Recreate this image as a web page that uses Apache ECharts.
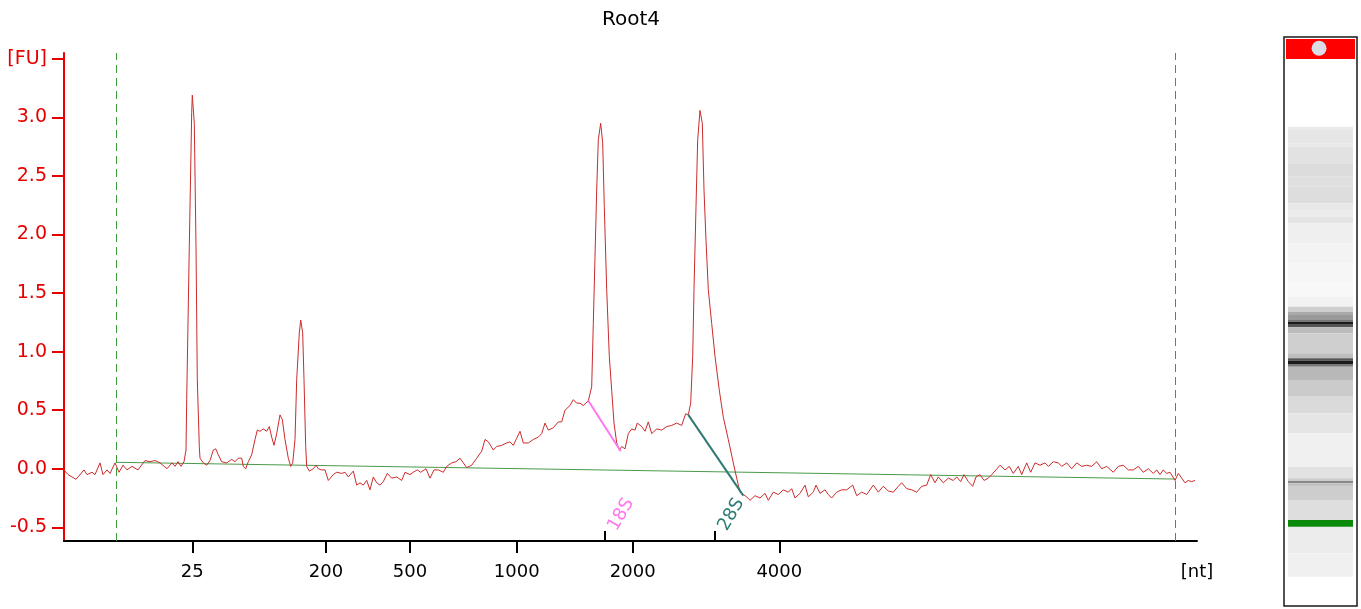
<!DOCTYPE html>
<html><head><meta charset="utf-8">
<script src="https://cdn.jsdelivr.net/npm/echarts@6/dist/echarts.min.js"></script>
<style>html,body{margin:0;padding:0;background:#fff}#c{width:1361px;height:609px}</style>
</head><body><div id="c"></div>
<script>
// Electropherogram trace: [migration index, fluorescence FU]
const traceSamples = [[0,-0.01],[1,-0.02],[4,-0.05],[12,-0.09],[20,-0.01],[23,-0.05],[28,-0.03],[31,-0.05],[36,0.05],[39,-0.05],[43,-0.01],[46,-0.04],[51,0.05],[55,-0.03],[59,0.03],[63,-0.01],[68,0.02],[74,-0.01],[81,0.07],[86,0.06],[91,0.07],[96,0.05],[103,0.00],[108,0.05],[111,0.02],[114,0.06],[117,0.02],[120,0.06],[122,0.16],[122.7,0.59],[125.3,1.90],[127.7,3.04],[128.3,3.19],[130.3,2.95],[132,1.90],[133.3,0.76],[135.3,0.19],[136,0.09],[139.3,0.05],[142.7,0.03],[146,0.07],[149.3,0.16],[151.7,0.17],[154.3,0.12],[157.7,0.06],[162.7,0.05],[167.7,0.08],[171,0.06],[174.3,0.09],[177.7,0.09],[179.3,0.02],[181.7,0.00],[184.3,0.06],[187.7,0.12],[191,0.25],[193.3,0.33],[196,0.32],[199.3,0.34],[202.7,0.32],[205.3,0.36],[207.7,0.27],[210,0.20],[212.7,0.30],[216,0.46],[218.3,0.42],[221,0.25],[224.3,0.09],[226.7,0.02],[228.7,0.05],[231,0.25],[232.7,0.76],[235.3,1.16],[236.7,1.27],[238.7,1.16],[240,0.76],[241.7,0.19],[242.7,0.02],[245.3,-0.02],[249.3,0.00],[252,0.03],[254.3,0.00],[257.7,-0.01],[261,-0.01],[264.3,-0.10],[266,-0.10],[269.3,-0.05],[272.7,-0.03],[277.7,-0.04],[281,-0.03],[284.3,-0.07],[289.3,-0.02],[292.7,-0.14],[296,-0.12],[299.3,-0.14],[302.7,-0.10],[306,-0.18],[309.3,-0.07],[312.7,-0.12],[316,-0.14],[319.3,-0.11],[323.3,-0.04],[327.7,-0.08],[332.7,-0.07],[337.7,-0.10],[341,-0.03],[346,-0.05],[349.3,-0.03],[353.3,-0.01],[356.7,-0.03],[362,0.00],[366,-0.08],[370,-0.01],[374.3,-0.01],[379.3,-0.03],[382.7,0.02],[387.7,0.05],[392,0.06],[396,0.09],[399.3,0.05],[402.7,0.01],[407.7,0.03],[412.7,0.09],[417.7,0.15],[421,0.25],[424.3,0.23],[429.3,0.16],[432.7,0.19],[437.7,0.20],[442.7,0.22],[446,0.23],[449.3,0.20],[452.7,0.26],[456,0.32],[459.3,0.22],[464.3,0.22],[469.3,0.25],[474.3,0.27],[477.7,0.30],[481,0.39],[484.3,0.33],[489.3,0.35],[494.3,0.40],[497.7,0.40],[501,0.50],[506,0.54],[509.3,0.59],[512.7,0.56],[516,0.56],[519.3,0.54],[524.3,0.58],[527.7,0.70],[529.3,1.24],[531,1.81],[532.7,2.38],[534.3,2.81],[536.7,2.95],[538.7,2.78],[540.3,2.24],[542.7,1.53],[545.3,0.96],[547.7,0.67],[550,0.39],[552.7,0.22],[555.3,0.16],[557.7,0.19],[561,0.17],[564.3,0.30],[567.7,0.34],[571,0.33],[573.3,0.39],[577.7,0.36],[581,0.32],[584.3,0.40],[587.7,0.30],[592.7,0.34],[597.7,0.33],[602.7,0.36],[607.7,0.37],[612.7,0.39],[617.7,0.37],[621.7,0.47],[624.3,0.46],[626.7,0.56],[628.7,0.96],[630,1.53],[632,2.24],[633.7,2.81],[636,3.06],[638.3,2.95],[640,2.38],[642,1.95],[644.3,1.53],[647.7,1.24],[651,0.96],[655.3,0.67],[659.3,0.44],[664.3,0.25],[669.3,0.05],[672.7,-0.08],[676,-0.20],[679.3,-0.22],[682.7,-0.24],[686,-0.27],[691,-0.23],[696,-0.25],[701,-0.21],[704.3,-0.27],[709.3,-0.20],[714.3,-0.22],[719.3,-0.18],[724.3,-0.20],[727.7,-0.17],[731,-0.25],[736,-0.21],[741,-0.14],[744.3,-0.24],[749.3,-0.20],[752,-0.14],[756,-0.21],[761,-0.18],[764.3,-0.22],[767.7,-0.25],[772.7,-0.20],[777.7,-0.18],[782.7,-0.18],[788.7,-0.14],[792.7,-0.23],[797.7,-0.20],[802.7,-0.22],[809.3,-0.14],[814.3,-0.20],[819.3,-0.15],[824.3,-0.19],[829.3,-0.20],[834.3,-0.15],[837.7,-0.12],[842.7,-0.17],[847.7,-0.18],[852.7,-0.20],[857.7,-0.15],[862.7,-0.14],[866.7,-0.05],[871,-0.12],[874.3,-0.07],[879.3,-0.12],[884.3,-0.08],[889.3,-0.10],[892.7,-0.07],[896.7,-0.11],[900,-0.05],[904.3,-0.11],[908.7,-0.15],[912,-0.07],[916,-0.05],[920,-0.10],[924.3,-0.08],[927.7,-0.05],[932,-0.01],[936,0.03],[941,-0.01],[945.3,0.02],[949.3,-0.04],[954.3,0.02],[957.7,-0.05],[962.7,0.05],[966.7,-0.03],[971,0.05],[976,0.03],[981,0.05],[984.3,0.02],[989.3,0.06],[994.3,0.05],[997.7,0.02],[1002.7,0.05],[1007.7,0.00],[1012.7,0.05],[1017.7,0.02],[1022.7,0.03],[1027.7,0.02],[1032.7,0.06],[1037.7,0.00],[1042.7,0.02],[1049.3,-0.03],[1054.3,0.02],[1059.3,0.03],[1064.3,-0.01],[1069.3,-0.01],[1074.3,0.02],[1079.3,-0.03],[1084.3,0.00],[1089.3,-0.04],[1092.7,-0.01],[1096,-0.05],[1099.3,-0.01],[1102.7,-0.04],[1106,-0.03],[1111,-0.10],[1114.3,-0.04],[1117.7,-0.08],[1121,-0.12],[1124.3,-0.10],[1127.7,-0.11],[1131,-0.10]];

// Ladder (size labels) on the migration axis
const ladderNt = [25, 200, 500, 1000, 2000, 4000];
const ladderPos = [128.3, 262, 346, 452.7, 568.7, 715.3];
const axisEnd = 1133;
const axisUnitLabel = '[nt]';

// rRNA peak annotations
const rRNANames = ['18S', '28S'];
const rRNAPos = [540.7, 651];
const peak18S = [[524.3, 0.58], [556.7, 0.15]];
const peak28S = [[624.3, 0.46], [679.3, -0.23]];

// Integration window and baseline
const windowPos = [52.3, 1111.3];
const baseline = [[52.3, 0.055], [1111.3, -0.088]];

// FU axis ticks
const fuTicks = [-0.5, 0, 0.5, 1, 1.5, 2, 2.5, 3, 3.5];
const fuUnit = '[FU]';

// Gel lane: [start, end, gray level] along lane (top = 0)
const gelBands = [[89.7,93,235],[93,106.3,230],[106.3,109.7,233],[109.7,126.3,226],[126.3,139.7,220],[139.7,149.7,224],[149.7,166.3,221],[166.3,173,232],[173,179.7,236],[179.7,186.3,228],[186.3,206.3,239],[206.3,226.3,243],[226.3,246.3,246],[246.3,259.7,248],[259.7,269.7,242],[269.7,274.7,207],[274.7,278,170],[278,283,153],[283,284.7,119],[284.7,287.7,26],[287.7,290.3,85],[290.3,296.3,187],[296.3,316.3,207],[316.3,321.3,189],[321.3,323.7,85],[323.7,327,26],[327,329.7,119],[329.7,343,184],[343,359.7,203],[359.7,376.3,218],[376.3,396.3,229],[396.3,429.7,240],[429.7,441.3,226],[441.3,444,204],[444,446.3,136],[446.3,449.7,192],[449.7,463,205],[463,483,222],[489.7,516.3,236],[516.3,539.7,240]];
const gelCap = [[2, 22]];
const gelMarker = [[483, 489.7]];
const gelCapIcon = [[0.48, 11.3]];

const FONT = 'DejaVu Sans';
const chart = echarts.init(document.getElementById('c'));

function bandRenderer(x0, x1, colorFn) {
  return function (params, api) {
    const p0 = api.coord([x0, api.value(0)]);
    const p1 = api.coord([x1, api.value(1)]);
    return {
      type: 'rect',
      shape: { x: p0[0], y: p0[1], width: p1[0] - p0[0], height: p1[1] - p0[1] },
      style: { fill: colorFn(api) }
    };
  };
}

const dashStyle = { color: '#3c9a3c', type: [8, 5], width: 1 };

chart.setOption({
  animation: false,
  backgroundColor: '#fff',
  textStyle: { fontFamily: FONT },
  title: {
    text: 'Root4', left: 597, top: 5,
    textStyle: { fontSize: 20, fontWeight: 'normal', color: '#000', fontFamily: FONT }
  },
  grid: [
    { left: 64, right: 164, top: 53, bottom: 68 },
    { left: 1284, top: 37, width: 73, height: 569, show: true, borderColor: '#1a1a1a', borderWidth: 1.5, backgroundColor: '#fff' }
  ],
  xAxis: [
    {
      type: 'value', gridIndex: 0, min: 0, max: axisEnd,
      axisLine: { show: true, onZero: false, lineStyle: { color: '#000', width: 2 } },
      axisTick: { show: true, customValues: ladderPos, length: 12, lineStyle: { color: '#000', width: 2 } },
      axisLabel: {
        customValues: ladderPos.concat([axisEnd]),
        formatter: function (v) { const i = ladderPos.indexOf(v); return i >= 0 ? String(ladderNt[i]) : axisUnitLabel; },
        fontSize: 18, color: '#000', margin: 22, fontFamily: FONT
      },
      splitLine: { show: false }
    },
    {
      type: 'value', gridIndex: 0, min: 0, max: axisEnd, position: 'bottom',
      axisLine: { show: false, onZero: false },
      axisTick: { show: true, customValues: rRNAPos, inside: true, length: 10, lineStyle: { color: '#000', width: 2 } },
      axisLabel: {
        customValues: rRNAPos, inside: true, rotate: 60, margin: 16, verticalAlign: 'top',
        formatter: function (v) { const i = rRNAPos.indexOf(v); return (i === 0 ? '{a|' : '{b|') + rRNANames[i] + '}'; },
        rich: {
          a: { color: '#ff77ee', fontSize: 18, fontFamily: FONT },
          b: { color: '#2e7b74', fontSize: 18, fontFamily: FONT }
        }
      },
      splitLine: { show: false }
    },
    { type: 'value', gridIndex: 1, min: 0, max: 1, show: false }
  ],
  yAxis: [
    {
      type: 'value', gridIndex: 0, min: -0.617, max: 3.55,
      axisLine: { show: true, lineStyle: { color: '#e60000', width: 2 } },
      axisTick: { show: true, customValues: fuTicks, length: 12, lineStyle: { color: '#e60000', width: 2 } },
      axisLabel: {
        customValues: fuTicks,
        formatter: function (v) { return v === 3.5 ? fuUnit : v.toFixed(1); },
        color: '#e60000', fontSize: 19, margin: 17, fontFamily: FONT
      },
      splitLine: { show: false }
    },
    { type: 'value', gridIndex: 1, min: 0, max: 569, inverse: true, show: false }
  ],
  series: [
    {
      type: 'line', xAxisIndex: 0, yAxisIndex: 0, data: baseline, symbol: 'none',
      lineStyle: { color: '#4a9a4a', width: 1 }, silent: true, z: 2,
      markLine: {
        silent: true, symbol: 'none', label: { show: false },
        lineStyle: dashStyle,
        data: windowPos.map(function (x) { return { xAxis: x, lineStyle: dashStyle }; })
      }
    },
    {
      type: 'line', xAxisIndex: 0, yAxisIndex: 0, data: traceSamples, symbol: 'none',
      lineStyle: { color: '#cc2b2b', width: 1 }, silent: true, z: 3
    },
    {
      type: 'line', xAxisIndex: 0, yAxisIndex: 0, data: peak18S, symbol: 'none',
      lineStyle: { color: '#ff77ee', width: 2 }, silent: true, z: 4
    },
    {
      type: 'line', xAxisIndex: 0, yAxisIndex: 0, data: peak28S, symbol: 'none',
      lineStyle: { color: '#2e7b74', width: 2 }, silent: true, z: 4
    },
    {
      type: 'custom', xAxisIndex: 2, yAxisIndex: 1, data: gelBands, silent: true,
      renderItem: bandRenderer(0.055, 0.945, function (api) {
        const g = api.value(2);
        return 'rgb(' + g + ',' + g + ',' + g + ')';
      })
    },
    {
      type: 'custom', xAxisIndex: 2, yAxisIndex: 1, data: gelMarker, silent: true,
      renderItem: bandRenderer(0.055, 0.945, function () { return '#0a8a0a'; })
    },
    {
      type: 'custom', xAxisIndex: 2, yAxisIndex: 1, data: gelCap, silent: true,
      renderItem: bandRenderer(0.027, 0.973, function () { return '#ff0000'; })
    },
    {
      type: 'scatter', xAxisIndex: 2, yAxisIndex: 1, data: gelCapIcon, silent: true,
      symbol: 'circle', symbolSize: 15, itemStyle: { color: '#dcdce6', opacity: 1 }, z: 5
    }
  ]
});
</script>
</body></html>
